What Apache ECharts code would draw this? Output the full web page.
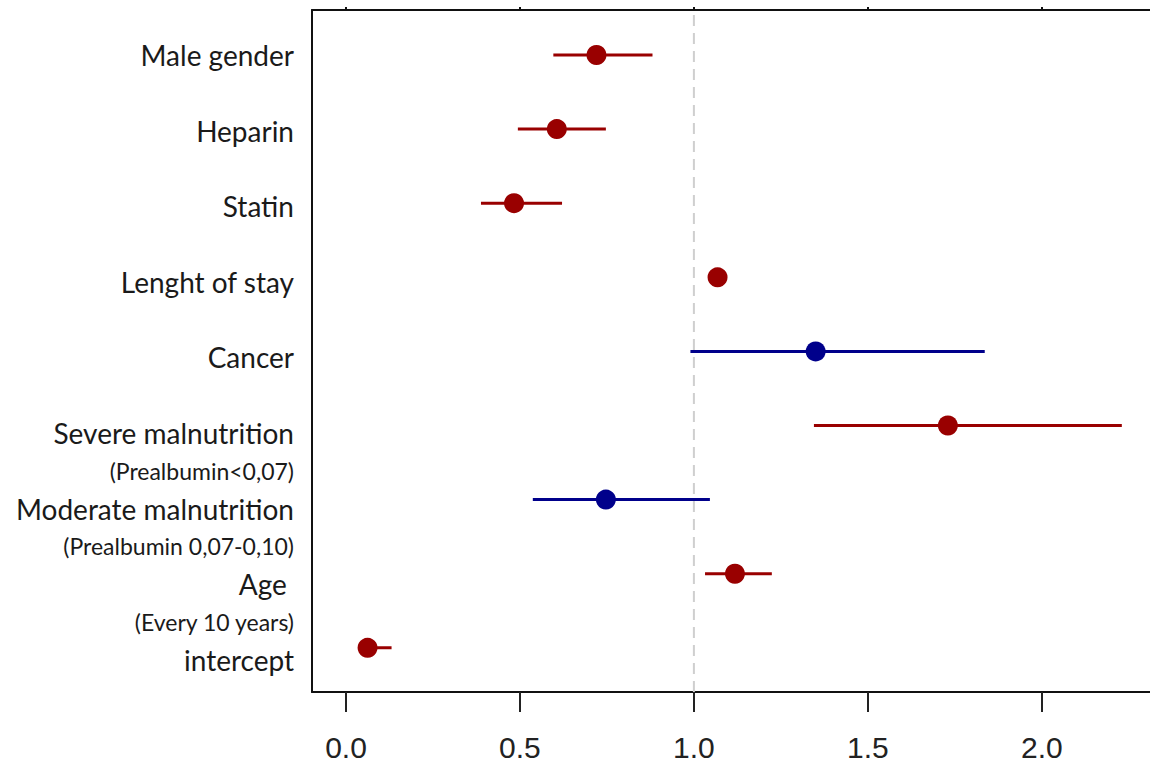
<!DOCTYPE html>
<html>
<head>
<meta charset="utf-8">
<script src="https://cdn.jsdelivr.net/npm/echarts@6/dist/echarts.min.js"></script>
<style>
  html, body { margin: 0; padding: 0; background: #fff; }
  #forest_chart { width: 1150px; height: 767px; }
</style>
</head>
<body>
<div id="forest_chart"></div>
<script>
// rows, top to bottom
const labels = ['Male gender', 'Heparin', 'Statin', 'Lenght of stay', 'Cancer',
  'Severe malnutrition', 'Moderate malnutrition', 'Age ', 'intercept']
const notes = ['', '', '', '', '', '(Prealbumin<0,07)', '(Prealbumin 0,07-0,10)', '(Every 10 years)', '']
// estimate and interval
const estimate = [0.720, 0.606, 0.483, 1.068, 1.350, 1.730, 0.747, 1.118, 0.062]
const lower = [0.596, 0.494, 0.388, 1.055, 0.990, 1.345, 0.537, 1.032, 0.035]
const upper = [0.881, 0.747, 0.621, 1.080, 1.836, 2.230, 1.046, 1.224, 0.131]
const xTicks = [0, 0.5, 1, 1.5, 2]
const refValue = 1

const RED = '#990000'
const BLUE = '#00008b'

const dom = document.getElementById('forest_chart')
const myChart = echarts.init(dom, null, { renderer: 'svg' })

const rows = labels.map((name, i) => [i + 1, estimate[i], lower[i], upper[i]])

// label axis: main labels on rows, notes half a row below
const labelValues = []
labels.forEach((l, i) => {
  labelValues.push(i + 1)
  if (notes[i]) labelValues.push(i + 1.5)
})

const option = {
  animation: false,
  grid: {
    left: 312,
    right: 0,
    top: 10,
    bottom: 75,
    containLabel: false,
    outerBoundsMode: 'none'
  },
  xAxis: [
    {
      type: 'value',
      position: 'bottom',
      min: -0.0977,
      max: 2.311,
      axisLine: { show: true, onZero: false, lineStyle: { color: '#111', width: 2 } },
      axisTick: { show: true, customValues: xTicks, length: 20, lineStyle: { color: '#222', width: 2 } },
      axisLabel: {
        customValues: xTicks,
        formatter: v => v.toFixed(1),
        fontFamily: '"Liberation Sans", Arial, sans-serif',
        fontSize: 30,
        color: '#222',
        margin: 40
      },
      splitLine: { show: false }
    },
    {
      type: 'value',
      position: 'top',
      min: -0.0977,
      max: 2.311,
      axisLine: { show: true, onZero: false, lineStyle: { color: '#111', width: 2 } },
      axisTick: { show: true, customValues: xTicks, length: 3, lineStyle: { color: '#111', width: 2 } },
      axisLabel: { show: false },
      splitLine: { show: false }
    }
  ],
  yAxis: [
    {
      type: 'value',
      inverse: true,
      min: 0.393,
      max: 9.596,
      axisLine: { show: true, onZero: false, lineStyle: { color: '#111', width: 2 } },
      axisTick: { show: false },
      axisLabel: { show: false },
      splitLine: { show: false }
    },
    {
      type: 'value',
      position: 'left',
      inverse: true,
      min: 0.405,
      max: 9.426,
      axisLine: { show: false },
      axisTick: { show: false },
      splitLine: { show: false },
      axisLabel: {
        customValues: labelValues,
        margin: 18,
        formatter: v => {
          const i = Math.floor(v) - 1
          if (Math.abs(v - Math.round(v)) < 0.01) return '{m|' + labels[i] + '}'
          return '{s|' + notes[i] + '}'
        },
        rich: {
          m: { fontFamily: 'Lato, "Open Sans", sans-serif', fontSize: 28, color: '#1a1a1a' },
          s: { fontFamily: 'Lato, "Open Sans", sans-serif', fontSize: 23, color: '#1a1a1a' }
        }
      }
    }
  ],
  series: [
    {
      // reference line at 1
      type: 'line',
      xAxisIndex: 0,
      yAxisIndex: 0,
      data: [[refValue, 0.46], [refValue, 9.596]],
      symbol: 'none',
      silent: true,
      z: 1,
      lineStyle: { color: '#cfcfcf', width: 2, type: [11, 7] }
    },
    {
      type: 'custom',
      xAxisIndex: 0,
      yAxisIndex: 0,
      z: 3,
      data: rows,
      encode: { x: [1, 2, 3], y: 0 },
      renderItem: function (params, api) {
        const y = api.value(0)
        const lo = api.value(2)
        const hi = api.value(3)
        const p = api.coord([api.value(1), y])
        const a = api.coord([lo, y])
        const b = api.coord([hi, y])
        // interval crossing 1 is drawn blue
        const color = (lo <= refValue && hi >= refValue) ? BLUE : RED
        return {
          type: 'group',
          children: [
            {
              type: 'line',
              shape: { x1: a[0], y1: a[1], x2: b[0], y2: b[1] },
              style: { stroke: color, lineWidth: 3 }
            },
            {
              type: 'circle',
              shape: { cx: p[0], cy: p[1], r: 10 },
              style: { fill: color }
            }
          ]
        }
      }
    }
  ]
}

myChart.setOption(option, true)
window.onresize = function () {
  myChart.resize()
}
</script>
</body>
</html>
